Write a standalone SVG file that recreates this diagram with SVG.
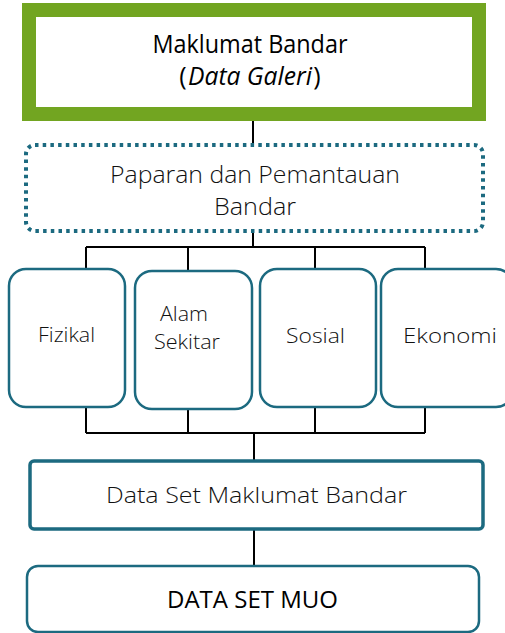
<svg xmlns="http://www.w3.org/2000/svg" width="505" height="633" viewBox="0 0 505 633">
<style>
.lt{font-family:"Open Sans","Noto Sans","Liberation Sans",sans-serif;font-weight:300;fill:#111;text-anchor:middle}
.rg{font-family:"Open Sans","Noto Sans","Liberation Sans",sans-serif;font-weight:400;fill:#000;text-anchor:middle}
.box{fill:#fff;stroke:#1C6A80}
.ln{stroke:#000;stroke-width:2;fill:none}
</style>
<rect width="505" height="633" fill="#fff"/>
<g id="connectors">
<path class="ln" d="M253,120V145"/>
<path class="ln" d="M253,231V247M86,247H425M86,247V270M188,247V272M315,247V270M425,247V270"/>
<path class="ln" d="M86,407V433M188,409V433M315,407V433M425,407V433M86,433H425M254,433V460"/>
<path class="ln" d="M254,529V565"/>
</g>
<g id="maklumat">
<rect x="29" y="10" width="450" height="104" fill="#fff" stroke="#72A521" stroke-width="14"/>
<text class="rg" x="250" y="53" font-size="25" textLength="195" lengthAdjust="spacingAndGlyphs">Maklumat Bandar</text>
<text class="rg" x="183" y="85" font-size="25">(</text>
<text class="rg" x="250" y="85" font-size="25" font-style="italic" textLength="124" lengthAdjust="spacingAndGlyphs">Data Galeri</text>
<text class="rg" x="317" y="85" font-size="25">)</text>
</g>
<g id="paparan">
<rect x="26" y="145" width="457" height="86" rx="9" fill="#fff" stroke="#1C6A80" stroke-width="4" stroke-dasharray="3.5 4.2"/>
<text class="lt" x="255" y="183" font-size="24" textLength="290" lengthAdjust="spacingAndGlyphs">Paparan dan Pemantauan</text>
<text class="lt" x="255" y="215" font-size="24" textLength="82" lengthAdjust="spacingAndGlyphs">Bandar</text>
</g>
<g id="fizikal">
<rect class="box" x="9" y="269" width="116" height="138" rx="17" stroke-width="2.5"/>
<text class="lt" x="66.5" y="342" font-size="21" textLength="57" lengthAdjust="spacingAndGlyphs">Fizikal</text>
</g>
<g id="alam">
<rect class="box" x="135" y="271" width="117" height="138" rx="17" stroke-width="2.5"/>
<text class="lt" x="184" y="321" font-size="21" textLength="48" lengthAdjust="spacingAndGlyphs">Alam</text>
<text class="lt" x="187" y="349" font-size="21" textLength="66" lengthAdjust="spacingAndGlyphs">Sekitar</text>
</g>
<g id="sosial">
<rect class="box" x="260" y="269" width="116" height="138" rx="17" stroke-width="2.5"/>
<text class="lt" x="315.5" y="343" font-size="21" textLength="59" lengthAdjust="spacingAndGlyphs">Sosial</text>
</g>
<g id="ekonomi">
<rect class="box" x="381" y="269" width="132" height="138" rx="17" stroke-width="2.5"/>
<text class="lt" x="450" y="343" font-size="21" textLength="94" lengthAdjust="spacingAndGlyphs">Ekonomi</text>
</g>
<g id="dataset">
<rect class="box" x="30" y="461" width="453" height="68" rx="4" stroke-width="3.5"/>
<text class="lt" x="256.5" y="503" font-size="22" textLength="301" lengthAdjust="spacingAndGlyphs">Data Set Maklumat Bandar</text>
</g>
<g id="muo">
<rect class="box" x="27" y="566" width="452" height="66" rx="11" stroke-width="2.5"/>
<text class="rg" x="252.5" y="608" font-size="23" textLength="171" lengthAdjust="spacingAndGlyphs">DATA SET MUO</text>
</g>
</svg>
